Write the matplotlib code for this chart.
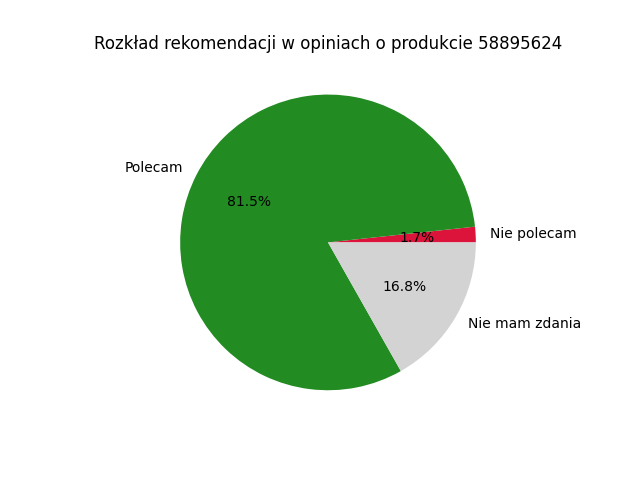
import matplotlib
matplotlib.use("Agg")
import matplotlib.pyplot as plt

labels = ["Nie polecam", "Polecam", "Nie mam zdania"]
shares = [1.7, 81.5, 16.8]
colors = ["crimson", "forestgreen", "lightgray"]

fig, ax = plt.subplots(figsize=(6.4, 4.8), dpi=100)
ax.pie(shares, labels=labels, colors=colors, autopct="%1.1f%%")
ax.set_title("Rozkład rekomendacji w opiniach o produkcie 58895624")
fig.savefig("out.png")
